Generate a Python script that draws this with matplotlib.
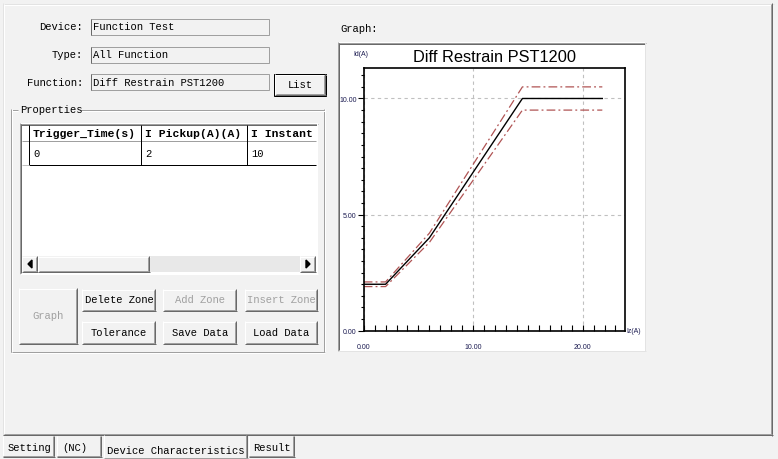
import numpy as np
import matplotlib
matplotlib.use("Agg")
from matplotlib import pyplot as plt
from matplotlib.patches import Rectangle
from matplotlib.ticker import MultipleLocator, FormatStrFormatter

# data
field_labels = ["Device:", "Type:", "Function:"]
field_values = ["Function Test", "All Function", "Diff Restrain PST1200"]
table_headers = ["Trigger_Time(s)", "I Pickup(A)(A)", "I Instant"]
table_row = ["0", "2", "10"]
tab_names = ["Setting", "(NC)", "Device Characteristics", "Result"]

zone_x = [0, 2, 6, 14.5, 21.8]
zone_y = [2, 2, 4, 10, 10]
upper_y = [2.1, 2.1, 4.2, 10.5, 10.5]
lower_y = [1.9, 1.9, 3.8, 9.5, 9.5]

W, H = 778, 460
FACE = "#f2f2f2"
GUI_FONT = "Liberation Mono"

fig = plt.figure(figsize=(W / 100, H / 100), dpi=100, facecolor=FACE)
bg = fig.add_axes([0, 0, 1, 1])
bg.set_xlim(0, W)
bg.set_ylim(H, 0)
bg.axis("off")
bg.set_facecolor(FACE)


def hline(x0, x1, y, c, lw=1.0):
    bg.plot([x0, x1], [y + 0.5, y + 0.5], color=c, lw=lw * 0.72, solid_capstyle="butt")


def vline(x, y0, y1, c, lw=1.0):
    bg.plot([x + 0.5, x + 0.5], [y0, y1], color=c, lw=lw * 0.72, solid_capstyle="butt")


def raised(x0, y0, x1, y1, face=FACE, dark="#696969"):
    bg.add_patch(Rectangle((x0, y0), x1 - x0, y1 - y0, facecolor=face, edgecolor="none"))
    hline(x0, x1, y0, "white")
    vline(x0, y0, y1, "white")
    hline(x0, x1, y1 - 1, dark)
    vline(x1 - 1, y0, y1, dark)
    hline(x0 + 1, x1 - 1, y1 - 2, "#a0a0a0")
    vline(x1 - 2, y0 + 1, y1 - 1, "#a0a0a0")


def sunken(x0, y0, x1, y1, face="white"):
    bg.add_patch(Rectangle((x0, y0), x1 - x0, y1 - y0, facecolor=face, edgecolor="none"))
    hline(x0, x1, y0, "#a0a0a0")
    vline(x0, y0, y1, "#a0a0a0")
    hline(x0 + 1, x1 - 1, y0 + 1, "#696969")
    vline(x0 + 1, y0 + 1, y1 - 1, "#696969")
    hline(x0, x1, y1 - 1, "white")
    vline(x1 - 1, y0, y1, "white")


def gtext(x, y, s, **kw):
    kw.setdefault("fontsize", 7.6)
    kw.setdefault("color", "black")
    bg.text(x, y, s, family=GUI_FONT, va="center", **kw)


# main tab page frame
hline(3, 774, 4, "#e3e3e3")
hline(4, 772, 5, "white")
vline(3, 4, 436, "#e3e3e3")
vline(4, 5, 435, "white")
vline(771, 5, 435, "#a0a0a0")
vline(772, 4, 437, "#696969")
hline(4, 772, 434, "#a0a0a0")
hline(3, 773, 435, "#696969")

# labelled read-only fields
field_y = [20, 48, 75]
for lab, val, y in zip(field_labels, field_values, field_y):
    gtext(83, y + 7.5, lab, ha="right")
    bg.add_patch(Rectangle((91, y), 178, 16, facecolor=FACE, edgecolor="#a0a0a0", lw=0.72))
    vline(91, y, y + 16, "#696969")
    gtext(93, y + 7.5, val)

# List button (default button, black frame)
raised(275, 75, 326, 96)
bg.add_patch(Rectangle((274.5, 74.5), 52, 22, facecolor="none", edgecolor="black", lw=0.72))
gtext(300.5, 85, "List", ha="center")

# Properties group box
for off, c in [(0, "#a0a0a0"), (1, "white")]:
    hline(11 + off, 18, 110 + off, c)
    hline(80, 325, 110 + off, c)
    vline(11 + off, 110, 353, c)
    vline(324 + off, 110, 353, c)
    hline(11, 325, 352 + off, c)
gtext(20, 110, "Properties")

# table
sunken(20, 124, 318, 275)
bg.add_patch(Rectangle((22, 126), 294, 131, facecolor="white", edgecolor="none"))
hline(22, 316, 141, "#a0a0a0")
vline(29, 126, 166, "black")
hline(29, 316, 165, "black")
col_x = [29, 141, 247]
for i, (hd, cell) in enumerate(zip(table_headers, table_row)):
    if i > 0:
        vline(col_x[i], 126, 166, "black")
    gtext(col_x[i] + 4, 134, hd, fontweight="bold", fontsize=8.2)
    gtext(col_x[i] + 4, 154, cell)
hline(22, 29, 165, "#c0c0c0")

# horizontal scroll bar
bg.add_patch(Rectangle((22, 257), 294, 16, facecolor="#e8e8e8", edgecolor="none", hatch="....", lw=0))
raised(22, 257, 38, 273)
raised(38, 257, 150, 273)
raised(300, 257, 316, 273)
bg.fill([28, 32, 32], [265, 261, 269], color="black")
bg.fill([310, 306, 306], [265, 261, 269], color="black")

# buttons
buttons = [
    ("Graph", 19, 289, 78, 345, False),
    ("Delete Zone", 82, 290, 156, 312, True),
    ("Add Zone", 163, 290, 237, 312, False),
    ("Insert Zone", 245, 290, 318, 312, False),
    ("Tolerance", 82, 322, 156, 345, True),
    ("Save Data", 163, 322, 237, 345, True),
    ("Load Data", 245, 322, 318, 345, True),
]
for name, x0, y0, x1, y1, on in buttons:
    raised(x0, y0, x1, y1)
    gtext((x0 + x1) / 2, (y0 + y1) / 2 - 0.5, name, ha="center",
          color="black" if on else "#a0a0a0")

# tabs at the bottom
tab_box = [(3, 55), (57, 102), (104, 248), (249, 295)]
for i, (name, (x0, x1)) in enumerate(zip(tab_names, tab_box)):
    if i == 2:
        bg.add_patch(Rectangle((x0, 435), x1 - x0, 25, facecolor=FACE, edgecolor="none"))
        vline(x0, 436, 460, "white")
        vline(x1 - 1, 436, 460, "#696969")
        vline(x1 - 2, 436, 459, "#a0a0a0")
        hline(x0, x1, 458, "#a0a0a0")
        gtext((x0 + x1) / 2, 451.5, name, ha="center")
    else:
        vline(x0, 437, 457, "white")
        vline(x1 - 1, 437, 458, "#696969")
        vline(x1 - 2, 437, 457, "#a0a0a0")
        hline(x0, x1, 457, "#696969")
        hline(x0, x1 - 1, 456, "#a0a0a0")
        gtext(x0 + 5 if i < 2 else x0 + 4, 448, name)

# graph panel
gtext(340, 29, "Graph:")
bg.add_patch(Rectangle((338, 43), 308, 309, facecolor="white", edgecolor="none"))
hline(338, 646, 43, "#a0a0a0")
hline(339, 645, 44, "#696969")
vline(338, 43, 352, "#a0a0a0")
vline(339, 44, 351, "#696969")
hline(338, 646, 351, "#e3e3e3")
vline(645, 43, 352, "#e3e3e3")

bg.text(494.7, 57.8, "Diff Restrain PST1200", family="Liberation Sans",
        fontsize=11.8, ha="center", va="center", color="black")
bg.text(353.5, 55, "Id(A)", family="Liberation Sans", fontsize=5,
        ha="left", va="center", color="#1a1a50")
bg.text(626.5, 331.5, "Iz(A)", family="Liberation Sans", fontsize=5,
        ha="left", va="center", color="#1a1a50")

# the characteristic chart itself
left, right, top, bottom = 363.7, 625.3, 69.3, 331.7
ax = fig.add_axes([left / W, (H - bottom) / H, (right - left) / W, (bottom - top) / H])
ax.set_facecolor("white")
ax.set_xlim(0, 23.9)
ax.set_ylim(0, 11.3)

ax.plot(zone_x, upper_y, color="#b05454", lw=0.9, dashes=(7, 2.5, 1.5, 2.5))
ax.plot(zone_x, lower_y, color="#b05454", lw=0.9, dashes=(7, 2.5, 1.5, 2.5))
ax.plot(zone_x, zone_y, color="black", lw=1.0)

ax.xaxis.set_major_locator(MultipleLocator(10))
ax.xaxis.set_minor_locator(MultipleLocator(1))
ax.yaxis.set_major_locator(MultipleLocator(5))
ax.yaxis.set_minor_locator(MultipleLocator(0.5))
ax.xaxis.set_major_formatter(FormatStrFormatter("%.2f"))
ax.yaxis.set_major_formatter(FormatStrFormatter("%.2f"))
ax.grid(True, which="major", color="#c0c0c0", lw=0.8, dashes=(3, 3))
for s in ax.spines.values():
    s.set_linewidth(1.2)
    s.set_color("black")

ax.tick_params(axis="x", which="both", direction="in", length=4, width=0.8,
               labelsize=5, pad=9, labelcolor="#1a1a50")
ax.tick_params(axis="y", which="major", direction="out", length=4, width=0.8,
               labelsize=5, pad=1, labelcolor="#1a1a50")
ax.tick_params(axis="y", which="minor", direction="out", length=2.2, width=0.8)
for lbl in ax.get_xticklabels() + ax.get_yticklabels():
    lbl.set_family("Liberation Sans")

fig.savefig("out.png", dpi=100, facecolor=FACE)
